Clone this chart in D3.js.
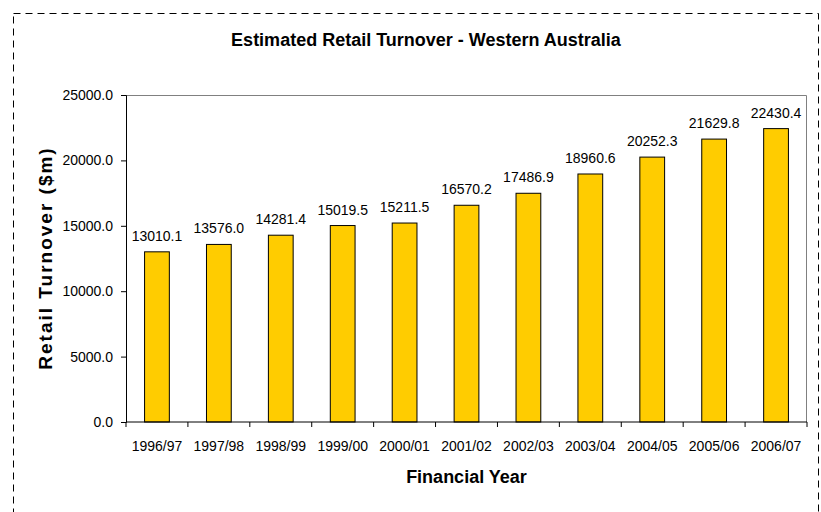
<!DOCTYPE html>
<html>
<head>
<meta charset="utf-8">
<script src="https://cdn.jsdelivr.net/npm/d3@7"></script>
<style>
  body { margin: 0; background: #fff; }
  text { font-family: "Liberation Sans", Arial, sans-serif; fill: #000; }
</style>
</head>
<body>
<div id="chart"></div>
<script>
// data
const years = ["1996/97", "1997/98", "1998/99", "1999/00", "2000/01", "2001/02",
  "2002/03", "2003/04", "2004/05", "2005/06", "2006/07"];
const turnover = [13010.1, 13576.0, 14281.4, 15019.5, 15211.5, 16570.2,
  17486.9, 18960.6, 20252.3, 21629.8, 22430.4];
const yTicks = [0, 5000, 10000, 15000, 20000, 25000];

const W = 821, H = 512;
const MARGIN = { LEFT: 126, RIGHT: 14, TOP: 95, BOTTOM: 90 };
const WIDTH = W - MARGIN.LEFT - MARGIN.RIGHT;
const HEIGHT = H - MARGIN.TOP - MARGIN.BOTTOM;

const svg = d3.select("#chart").append("svg")
  .attr("width", W)
  .attr("height", H);

// dashed outer frame
svg.append("rect")
  .attr("x", 13.5).attr("y", 13.5)
  .attr("width", 805).attr("height", 520)
  .attr("fill", "none")
  .attr("stroke", "#000")
  .attr("stroke-width", 1)
  .attr("stroke-dasharray", "7,5");

const g = svg.append("g")
  .attr("transform", `translate(${MARGIN.LEFT}, ${MARGIN.TOP})`);

const x = d3.scaleBand().domain(years).range([0, WIDTH]).paddingInner(0.6).paddingOuter(0.3);
const xTick = d3.scaleBand().domain(years).range([0, WIDTH]);
const y = d3.scaleLinear().domain([0, 25000]).range([HEIGHT, 0]);

// plot frame (top/right grey)
g.append("path")
  .attr("d", `M0,0.5H${WIDTH - 0.5}V${HEIGHT}`)
  .attr("fill", "none")
  .attr("stroke", "#808080");

// bars
g.selectAll("rect.bar")
  .data(turnover)
  .enter().append("rect")
  .attr("class", "bar")
  .attr("x", (d, i) => x(years[i]))
  .attr("y", d => y(d))
  .attr("width", x.bandwidth())
  .attr("height", d => HEIGHT - y(d))
  .attr("fill", "#FFCC00")
  .attr("stroke", "#000")
  .attr("stroke-width", 1);

// value labels
g.selectAll("text.val")
  .data(turnover)
  .enter().append("text")
  .attr("class", "val")
  .attr("x", (d, i) => x(years[i]) + x.bandwidth() / 2)
  .attr("y", d => y(d) - 11)
  .attr("text-anchor", "middle")
  .attr("font-size", "14px")
  .text(d => d3.format(".1f")(d));

// y axis
const yAxis = g.append("g")
  .call(d3.axisLeft(y).tickValues(yTicks).tickSize(5).tickFormat(d3.format(".1f")));
yAxis.select(".domain").attr("stroke", "#000");
yAxis.selectAll("text").attr("font-size", "14px").attr("font-family", "Liberation Sans, Arial, sans-serif").attr("x", -13);

// x axis: ticks at band boundaries
const xAxis = g.append("g")
  .attr("transform", `translate(0, ${HEIGHT})`);
xAxis.append("line")
  .attr("x1", 0).attr("x2", WIDTH)
  .attr("stroke", "#000");
const bounds = years.map(d => xTick(d)).concat([WIDTH]);
xAxis.selectAll("line.tick")
  .data(bounds)
  .enter().append("line")
  .attr("class", "tick")
  .attr("x1", d => d).attr("x2", d => d)
  .attr("y1", 0).attr("y2", 5)
  .attr("stroke", "#000");
xAxis.selectAll("text.lbl")
  .data(years)
  .enter().append("text")
  .attr("class", "lbl")
  .attr("x", d => xTick(d) + xTick.bandwidth() / 2)
  .attr("y", 29)
  .attr("text-anchor", "middle")
  .attr("font-size", "14px")
  .text(d => d);

// titles
svg.append("text")
  .attr("x", 426).attr("y", 46)
  .attr("text-anchor", "middle")
  .attr("font-size", "18px")
  .attr("font-weight", "bold")
  .text("Estimated Retail Turnover - Western Australia");

svg.append("text")
  .attr("x", MARGIN.LEFT + WIDTH / 2).attr("y", 483)
  .attr("text-anchor", "middle")
  .attr("font-size", "18px")
  .attr("font-weight", "bold")
  .text("Financial Year");

svg.append("text")
  .attr("transform", `translate(52, 258) rotate(-90)`)
  .attr("text-anchor", "middle")
  .attr("font-size", "19px")
  .attr("font-weight", "bold")
  .attr("letter-spacing", "2px")
  .text("Retail Turnover ($m)");
</script>
</body>
</html>
